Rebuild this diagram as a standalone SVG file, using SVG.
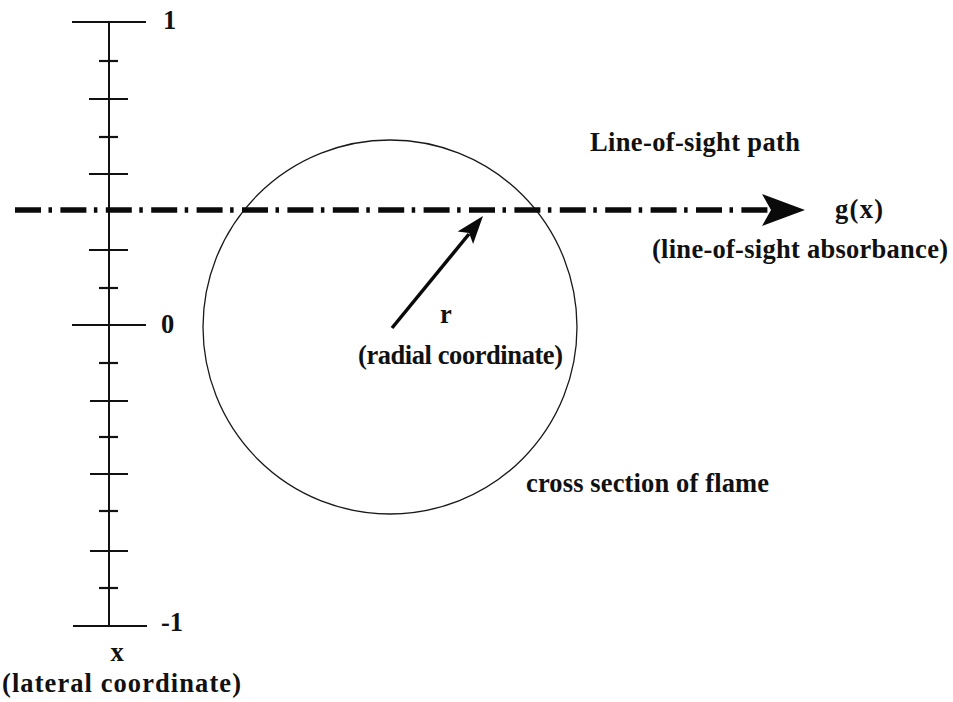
<svg xmlns="http://www.w3.org/2000/svg" width="953" height="702" viewBox="0 0 953 702">
<style>
.t{font-family:"Liberation Serif","Times New Roman",serif;font-weight:bold;font-size:26.5px;fill:#111}
.ax{stroke:#111;stroke-width:2;fill:none}
.tk{stroke:#111;stroke-width:2.2}
.los{stroke:#0a0a0a;stroke-width:5.5;fill:none;stroke-dasharray:26 7.5 3.5 8.4}
.rad{stroke:#0a0a0a;stroke-width:3.5}
.hd{fill:#0a0a0a}
</style>
<rect width="953" height="702" fill="#fff"/>
<g id="axis">
<line class="ax" x1="109" y1="22" x2="109" y2="626"/>
<g id="ticks" class="tk">
<line x1="72" y1="22" x2="146" y2="22"/>
<line x1="99" y1="61" x2="118" y2="61"/>
<line x1="89" y1="99" x2="128" y2="99"/>
<line x1="99" y1="137" x2="118" y2="137"/>
<line x1="89" y1="174" x2="128" y2="174"/>
<line x1="89" y1="250" x2="128" y2="250"/>
<line x1="99" y1="288" x2="118" y2="288"/>
<line x1="72" y1="325" x2="146" y2="325"/>
<line x1="99" y1="363" x2="118" y2="363"/>
<line x1="90" y1="401" x2="128" y2="401"/>
<line x1="99" y1="437" x2="118" y2="437"/>
<line x1="90" y1="474" x2="128" y2="474"/>
<line x1="99" y1="511" x2="118" y2="511"/>
<line x1="90" y1="551" x2="128" y2="551"/>
<line x1="99" y1="588" x2="118" y2="588"/>
<line x1="73" y1="626" x2="147" y2="626"/>
</g>
<text class="t" x="163" y="29">1</text>
<text class="t" x="161" y="333">0</text>
<text class="t" x="161" y="631">-1</text>
<text class="t" x="117" y="661" text-anchor="middle">x</text>
<text class="t" x="2" y="692" textLength="239" lengthAdjust="spacing">(lateral coordinate)</text>
</g>
<g id="flame">
<circle cx="390" cy="327" r="187" fill="none" stroke="#1a1a1a" stroke-width="1.3"/>
<text class="t" x="526" y="492" textLength="243" lengthAdjust="spacing">cross section of flame</text>
</g>
<g id="connectors">
<g id="line-of-sight">
<line class="los" x1="15" y1="210" x2="768" y2="210"/>
<path class="hd" d="M805,210 L762,194 L771,210 L762,226 Z"/>
</g>
<g id="radius">
<line class="rad" x1="392" y1="328" x2="469" y2="234"/>
<path class="hd" d="M483,216 L473.1,244 L469.1,233.1 L457.6,231.4 Z"/>
</g>
</g>
<g id="labels">
<text class="t" x="590" y="151" textLength="210" lengthAdjust="spacing">Line-of-sight path</text>
<text class="t" x="835" y="218" textLength="48" lengthAdjust="spacing">g(x)</text>
<text class="t" x="652" y="258" textLength="296" lengthAdjust="spacing">(line-of-sight absorbance)</text>
<text class="t" x="440" y="323">r</text>
<text class="t" x="358" y="364" textLength="205" lengthAdjust="spacing">(radial coordinate)</text>
</g>
</svg>
